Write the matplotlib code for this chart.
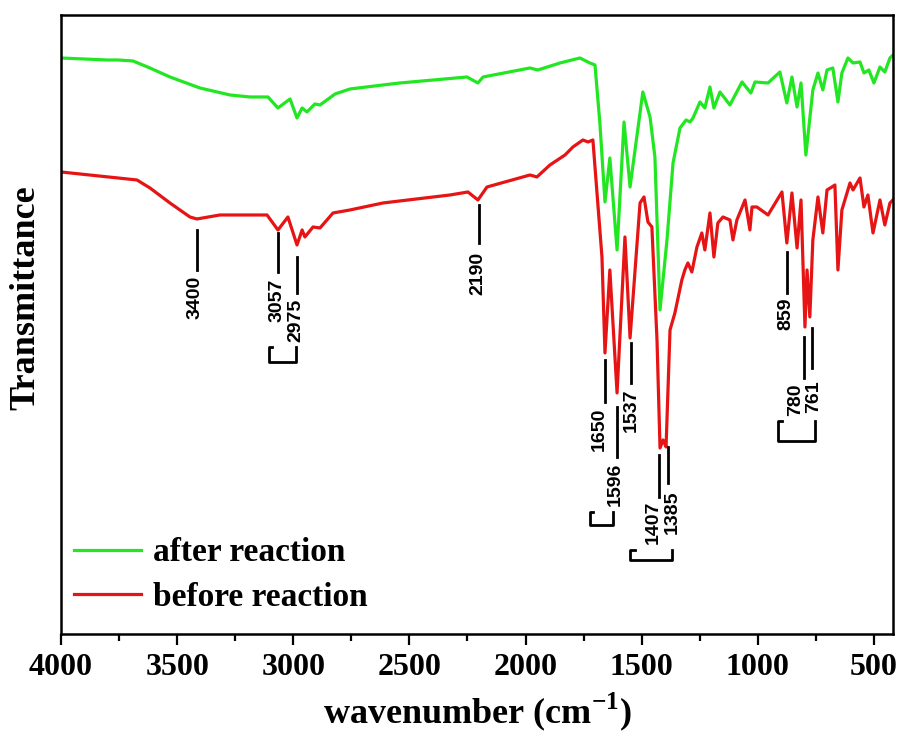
import matplotlib
matplotlib.use('Agg')
import matplotlib.pyplot as plt
from matplotlib.ticker import MultipleLocator

plt.rcParams['font.family'] = 'Liberation Serif'
plt.rcParams['font.weight'] = 'bold'
plt.rcParams['mathtext.fontset'] = 'custom'
plt.rcParams['mathtext.rm'] = 'Liberation Serif:bold'
plt.rcParams['mathtext.bf'] = 'Liberation Serif:bold'

# spectra (transmittance in arbitrary units)
wn_after = [4000, 3802, 3755, 3690, 3617, 3531, 3402, 3272, 3186, 3109, 3066, 3014, 2984, 2962,
            2941, 2907, 2885, 2820, 2756, 2614, 2541, 2252, 2205, 2183, 1981, 1947, 1852, 1766,
            1723, 1701, 1680, 1658, 1637, 1606, 1576, 1550, 1495, 1464, 1443, 1421, 1391, 1365,
            1335, 1309, 1292, 1279, 1249, 1228, 1206, 1189, 1163, 1120, 1068, 1030, 1012, 956,
            905, 875, 853, 831, 814, 793, 763, 741, 720, 702, 677, 655, 638, 612, 590, 560,
            543, 522, 500, 474, 453, 431, 418]
t_after = [576, 574, 574, 573, 566, 557, 546, 539, 537, 537, 526, 535, 516, 526,
           522, 530, 529, 540, 545, 549, 551, 557, 551, 557, 566, 564, 571, 576,
           571, 569, 511, 432, 476, 384, 512, 447, 542, 517, 477, 324, 394, 471,
           506, 514, 512, 516, 532, 526, 547, 526, 542, 529, 552, 541, 552, 551,
           562, 531, 557, 527, 551, 479, 544, 561, 544, 564, 566, 532, 561, 576, 571, 572,
           561, 564, 551, 567, 562, 576, 579]

wn_before = [4000, 3673, 3617, 3531, 3445, 3415, 3316, 3113, 3066, 3023, 2984, 2962, 2950, 2915,
             2885, 2829, 2756, 2614, 2325, 2248, 2205, 2166, 1981, 1951, 1895, 1830, 1796, 1753,
             1731, 1710, 1701, 1671, 1658, 1637, 1606, 1572, 1550, 1507, 1490, 1473, 1456, 1434,
             1421, 1408, 1404, 1395, 1378, 1357, 1327, 1314, 1301, 1284, 1262, 1241, 1228, 1206,
             1189, 1172, 1150, 1120, 1107, 1090, 1055, 1034, 1025, 1004, 956, 896, 875, 853,
             831, 814, 797, 788, 776, 763, 741, 720, 702, 681, 668, 655, 638, 603, 590, 560,
             543, 526, 504, 474, 453, 431, 418]
t_before = [462, 454, 446, 431, 417, 415, 419, 419, 404, 417, 389, 404, 397, 407,
            406, 421, 424, 431, 439, 442, 434, 447, 459, 457, 469, 479, 487, 494,
            492, 494, 467, 377, 281, 364, 241, 397, 296, 431, 437, 412, 407, 294,
            186, 194, 192, 187, 304, 321, 354, 364, 371, 362, 387, 401, 384, 421,
            377, 411, 417, 414, 394, 414, 434, 404, 427, 427, 419, 442, 391, 441,
            386, 434, 307, 364, 317, 394, 437, 401, 444, 447, 449, 364, 424, 451, 444, 456,
            427, 439, 401, 434, 409, 431, 434]

# peak labels: text, wavenumber of marker line, line top, line bottom, text centre
peak_text = ['3400', '3057', '2975', '2190', '1650', '1596', '1537', '1407', '1385', '859', '780', '761']
peak_wn = [3415, 3066, 2984, 2200, 1658, 1606, 1546, 1426, 1387, 875, 801, 767]
line_top = [404, 401, 377, 429, 274, 227, 291, 179, 187, 382, 297, 306]
line_bot = [364, 362, 341, 391, 232, 177, 251, 137, 151, 341, 256, 266]
text_mid = [337, 334, 314, 361, 205, 150, 224, 112, 122, 320, 234, 237]
text_dx = [-1, -1, -1, -1, -4, -1, 0, -4, 3, -1, -6, 1]  # points, sideways nudge of the numbers

# brackets grouping neighbouring labels: left wn, right wn, top, bottom
brackets = [(3105, 2988, 287, 272), (1723, 1624, 122, 109),
            (1550, 1370, 84, 74), (913, 754, 213, 193)]

fig = plt.figure(figsize=(9, 7.42), dpi=100)
ax = fig.add_axes([0.0678, 0.1456, 0.9244, 0.8342])

ax.plot(wn_after, t_after, color='#22e622', lw=2.3, label='after reaction')
ax.plot(wn_before, t_before, color='#e61414', lw=2.3, label='before reaction')

for i in range(len(peak_text)):
    ax.plot([peak_wn[i], peak_wn[i]], [line_bot[i], line_top[i]], color='black', lw=2)
    ax.annotate(peak_text[i], (peak_wn[i], text_mid[i]), xytext=(text_dx[i], 0),
                textcoords='offset points', rotation=90, ha='center', va='center',
                fontsize=14, family='Liberation Sans', fontweight='bold')

for left, right, top, bot in brackets:
    hook = (left - right) * 0.12
    ax.plot([left - hook, left, left, right, right], [top, top, bot, bot, top], color='black', lw=2)

ax.set_xlim(4000, 418)
ax.set_ylim(0, 619)
ax.xaxis.set_major_locator(MultipleLocator(500))
ax.xaxis.set_minor_locator(MultipleLocator(250))
ax.tick_params(axis='x', which='major', direction='out', length=8, width=1.6, labelsize=23, pad=6)
ax.tick_params(axis='x', which='minor', direction='out', length=5, width=1.6)
ax.tick_params(axis='y', left=False, labelleft=False)
for s in ax.spines.values():
    s.set_linewidth(1.8)

ax.set_xlabel('wavenumber (cm$^{-1}$)', fontsize=26, fontweight='bold', labelpad=6)
ax.set_ylabel('Transmittance', fontsize=26, fontweight='bold')
ax.yaxis.set_label_coords(-0.022, 0.544)

ax.legend(loc='lower left', bbox_to_anchor=(0.0, 0.013), frameon=False, fontsize=24,
          handlelength=2.0, handletextpad=0.35, labelspacing=0.4, borderaxespad=0.0)

plt.savefig('out.png', dpi=100)
